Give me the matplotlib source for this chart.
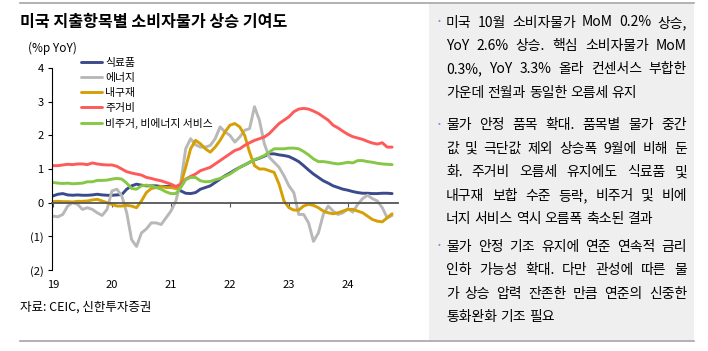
import numpy as np
import matplotlib.pyplot as plt
from matplotlib.lines import Line2D
from matplotlib.patches import Rectangle

plt.rcParams['font.family'] = ['Noto Sans CJK KR', 'DejaVu Sans']

# monthly, 2019-01 .. 2024-10 (%p YoY)
years = ['19', '20', '21', '22', '23', '24']
food = [0.20, 0.25, 0.27, 0.23, 0.22, 0.23, 0.22, 0.22, 0.23, 0.25, 0.23, 0.22,
        0.22, 0.23, 0.24, 0.40, 0.50, 0.55, 0.52, 0.50, 0.50, 0.50, 0.48, 0.48,
        0.48, 0.47, 0.35, 0.28, 0.27, 0.30, 0.40, 0.45, 0.50, 0.60, 0.70, 0.80,
        0.88, 0.97, 1.05, 1.12, 1.20, 1.27, 1.32, 1.38, 1.45, 1.45, 1.42, 1.40,
        1.37, 1.30, 1.22, 1.10, 0.97, 0.85, 0.75, 0.65, 0.58, 0.50, 0.45, 0.40,
        0.37, 0.33, 0.30, 0.28, 0.28, 0.27, 0.27, 0.28, 0.28, 0.27]
energy = [-0.40, -0.42, -0.35, -0.10, 0.00, -0.05, -0.20, -0.15, -0.20, -0.30, -0.38, -0.20,
          0.35, 0.40, 0.20, -0.30, -1.10, -1.30, -0.90, -0.78, -0.60, -0.60, -0.65, -0.45,
          -0.25, 0.05, 0.60, 1.60, 1.90, 1.72, 1.65, 1.65, 1.70, 1.90, 2.25, 2.10,
          2.00, 1.80, 1.95, 2.15, 2.20, 2.85, 2.45, 1.75, 1.35, 1.20, 1.05, 0.80,
          0.50, 0.30, -0.35, -0.35, -0.60, -1.15, -0.90, -0.35, -0.10, -0.25, -0.35, -0.30,
          -0.18, -0.28, -0.05, 0.12, 0.22, 0.12, 0.05, -0.15, -0.45, -0.38]
durables = [0.03, 0.04, 0.03, 0.03, 0.02, 0.04, 0.04, 0.05, 0.08, 0.10, 0.05, 0.00,
            -0.05, -0.10, -0.10, -0.08, -0.10, -0.15, 0.05, 0.30, 0.42, 0.45, 0.48, 0.45,
            0.45, 0.42, 0.55, 1.05, 1.60, 1.85, 1.75, 1.60, 1.50, 1.65, 1.85, 2.10,
            2.30, 2.35, 2.25, 2.00, 1.50, 1.10, 1.00, 1.00, 0.95, 0.90, 0.55, 0.05,
            -0.15, -0.22, -0.22, -0.10, -0.05, -0.08, -0.15, -0.25, -0.30, -0.33, -0.30, -0.25,
            -0.20, -0.20, -0.25, -0.30, -0.40, -0.50, -0.55, -0.57, -0.45, -0.33]
shelter = [1.10, 1.10, 1.12, 1.14, 1.13, 1.15, 1.15, 1.13, 1.18, 1.15, 1.13, 1.12,
           1.12, 1.08, 1.00, 0.92, 0.88, 0.85, 0.82, 0.75, 0.72, 0.68, 0.65, 0.60,
           0.55, 0.48, 0.55, 0.70, 0.78, 0.85, 0.95, 1.00, 1.05, 1.15, 1.25, 1.35,
           1.45, 1.55, 1.60, 1.70, 1.78, 1.85, 1.90, 1.95, 2.05, 2.20, 2.35, 2.45,
           2.55, 2.70, 2.78, 2.80, 2.78, 2.72, 2.65, 2.55, 2.45, 2.30, 2.22, 2.12,
           2.03, 1.96, 1.92, 1.88, 1.82, 1.77, 1.74, 1.78, 1.65, 1.65]
core_svc = [0.60, 0.58, 0.57, 0.58, 0.56, 0.57, 0.58, 0.62, 0.62, 0.66, 0.66, 0.67,
            0.70, 0.72, 0.70, 0.58, 0.42, 0.40, 0.50, 0.52, 0.50, 0.45, 0.40, 0.32,
            0.27, 0.27, 0.45, 0.68, 0.75, 0.75, 0.65, 0.62, 0.63, 0.68, 0.72, 0.78,
            0.85, 0.95, 1.05, 1.12, 1.20, 1.28, 1.33, 1.40, 1.50, 1.60, 1.60, 1.60,
            1.62, 1.62, 1.60, 1.52, 1.42, 1.30, 1.22, 1.22, 1.20, 1.17, 1.15, 1.17,
            1.20, 1.18, 1.25, 1.25, 1.22, 1.20, 1.17, 1.15, 1.14, 1.13]

series = [('식료품', food, '#3b4a8c'),
          ('에너지', energy, '#b8b8b8'),
          ('내구재', durables, '#d4a004'),
          ('주거비', shelter, '#ff5a5a'),
          ('비주거, 비에너지 서비스', core_svc, '#86c846')]

paragraphs = [
    ['미국 10월 소비자물가 MoM 0.2% 상승,',
     'YoY 2.6% 상승. 핵심 소비자물가 MoM',
     '0.3%, YoY 3.3% 올라 컨센서스 부합한',
     '가운데 전월과 동일한 오름세 유지'],
    ['물가 안정 품목 확대. 품목별 물가 중간',
     '값 및 극단값 제외 상승폭 9월에 비해 둔',
     '화. 주거비 오름세 유지에도 식료품 및',
     '내구재 보합 수준 등락, 비주거 및 비에',
     '너지 서비스 역시 오름폭 축소된 결과'],
    ['물가 안정 기조 유지에 연준 연속적 금리',
     '인하 가능성 확대. 다만 관성에 따른 물',
     '가 상승 압력 잔존한 만큼 연준의 신중한',
     '통화완화 기조 필요'],
]

W, H = 708, 351
fig = plt.figure(figsize=(W / 100, H / 100), dpi=100)


def fx(px):
    return px / W


def fy(py):
    return 1 - py / H


# frame lines and grey comment panel
fig.patches.append(Rectangle((fx(429), fy(340)), fx(694) - fx(429), fy(4) - fy(340),
                             transform=fig.transFigure, facecolor='#efefef',
                             edgecolor='none', zorder=0))
for yy in (3, 341):
    fig.add_artist(Line2D([fx(20), fx(694)], [fy(yy), fy(yy)], color='#a6a6a6', lw=1.2))

fig.text(fx(20), fy(22), '미국 지출항목별 소비자물가 상승 기여도', fontsize=11.6,
         fontweight='bold', va='center', ha='left')
fig.text(fx(28), fy(48), '(%p YoY)', fontsize=8.5, va='center', ha='left')
fig.text(fx(20), fy(307), '자료: CEIC, 신한투자증권', fontsize=9, va='center', ha='left')

# chart
ax = fig.add_axes([fx(52), fy(270), fx(398) - fx(52), fy(68) - fy(270)])
months = np.arange(len(food))
for name, vals, col in series:
    ax.plot(months, vals, color=col, lw=2.1, label=name, solid_capstyle='round')

ax.set_xlim(-0.2, 70.2)
ax.set_ylim(-2, 4)
ax.spines['top'].set_visible(False)
ax.spines['right'].set_visible(False)
ax.spines['bottom'].set_position(('data', 0))
ax.spines['bottom'].set_color('#555555')
ax.spines['bottom'].set_linewidth(1.3)
ax.spines['left'].set_linewidth(0.8)
ax.set_yticks(range(-2, 5))
ax.set_yticklabels(['(2)', '(1)', '0', '1', '2', '3', '4'])
ax.tick_params(axis='y', direction='out', length=3, width=0.8, labelsize=8, pad=3)
ax.set_xticks(np.arange(0, 72, 12))
ax.tick_params(axis='x', direction='out', length=3, width=0.8, color='#555555',
               labelbottom=False)
for i, lab in enumerate(years):
    ax.text(i * 12, -0.074, lab, transform=ax.get_xaxis_transform(), fontsize=8,
            ha='center', va='center')

ax.legend(loc='upper left', bbox_to_anchor=(fx(81), fy(58)),
          bbox_transform=fig.transFigure, frameon=False, fontsize=7.8,
          handlelength=1.95, handletextpad=0.3, labelspacing=0.45,
          borderpad=0, borderaxespad=0)

# justified comment text
fs = 10
left, right = 446, 687
line_h = 23.4
para_top = [22.5, 125.5, 247]
renderer = fig.canvas.get_renderer()
for p, lines in enumerate(paragraphs):
    y0 = para_top[p]
    fig.text(fx(439), fy(y0 - 2), '•', fontsize=6, color='#6b9bd1', ha='center',
             va='center')
    for j, line in enumerate(lines):
        yy = fy(y0 + j * line_h)
        words = line.split(' ')
        texts = [fig.text(0, yy, w, fontsize=fs, fontweight='medium', va='center',
                          ha='left') for w in words]
        widths = [t.get_window_extent(renderer).width for t in texts]
        if j == len(lines) - 1:
            t1 = fig.text(0, 0, 'a a', fontsize=fs)
            t2 = fig.text(0, 0, 'aa', fontsize=fs)
            gap = t1.get_window_extent(renderer).width - t2.get_window_extent(renderer).width
            t1.remove()
            t2.remove()
        else:
            gap = (right - left - sum(widths)) / (len(words) - 1)
        x = left
        for t, w in zip(texts, widths):
            t.set_x(fx(x))
            x += w + gap

fig.savefig('out.png', dpi=100)
